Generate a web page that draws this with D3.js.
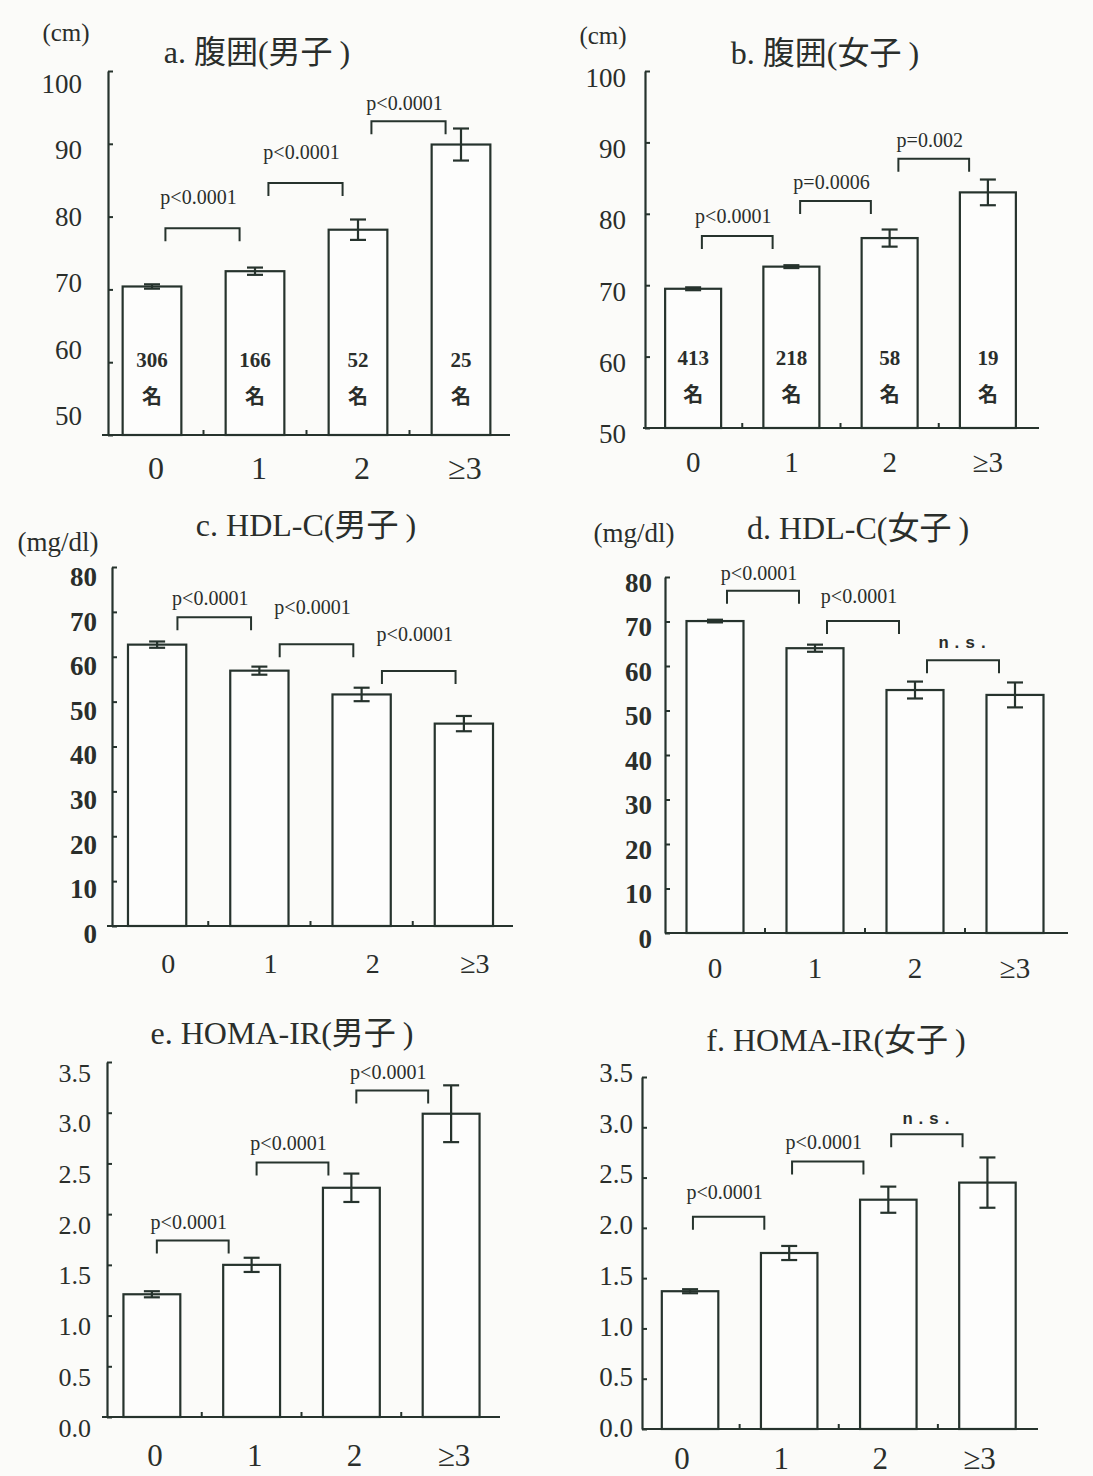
<!DOCTYPE html>
<html>
<head>
<meta charset="utf-8">
<script src="https://cdn.jsdelivr.net/npm/d3@7"></script>
<style>
  html, body { margin: 0; padding: 0; background: #fbfbf9; }
  svg { display: block; }
</style>
</head>
<body>
<svg id="chart" width="1093" height="1476"></svg>
<script>
// ---------------- DATA ----------------
const categories = ["0", "1", "2", "≥3"];

// a. waist circumference, boys (cm)
const waistMaleMean = [70.4, 72.5, 78.2, 89.9];
const waistMaleErr  = [0.3, 0.5, 1.4, 2.2];
const waistMaleN    = [306, 166, 52, 25];
// b. waist circumference, girls (cm)
const waistFemaleMean = [69.5, 72.6, 76.6, 83.0];
const waistFemaleErr  = [0.2, 0.2, 1.2, 1.8];
const waistFemaleN    = [413, 218, 58, 19];
// c. HDL-C boys (mg/dl)
const hdlMaleMean = [62.7, 56.9, 51.6, 45.1];
const hdlMaleErr  = [0.7, 0.9, 1.5, 1.7];
// d. HDL-C girls (mg/dl)
const hdlFemaleMean = [70.1, 64.0, 54.6, 53.5];
const hdlFemaleErr  = [0.3, 0.8, 1.9, 2.8];
// e. HOMA-IR boys
const homaMaleMean = [1.21, 1.50, 2.26, 2.99];
const homaMaleErr  = [0.03, 0.07, 0.14, 0.28];
// f. HOMA-IR girls
const homaFemaleMean = [1.37, 1.75, 2.28, 2.45];
const homaFemaleErr  = [0.02, 0.07, 0.13, 0.25];

// tick labels
const waistTicks = [50, 60, 70, 80, 90, 100];
const hdlTicks   = [0, 10, 20, 30, 40, 50, 60, 70, 80];
const homaTicks  = [0, 0.5, 1.0, 1.5, 2.0, 2.5, 3.0, 3.5];

// significance labels between neighbouring groups
const pWaistMale   = ["p<0.0001", "p<0.0001", "p<0.0001"];
const pWaistFemale = ["p<0.0001", "p=0.0006", "p=0.002"];
const pHdlMale     = ["p<0.0001", "p<0.0001", "p<0.0001"];
const pHdlFemale   = ["p<0.0001", "p<0.0001", "n.s."];
const pHomaMale    = ["p<0.0001", "p<0.0001", "p<0.0001"];
const pHomaFemale  = ["p<0.0001", "p<0.0001", "n.s."];

// ---------------- LAYOUT (annotation levels in data units) ----------------
const panels = [
  { title: "a. 腹囲(男子)", unit: "(cm)", mean: waistMaleMean, err: waistMaleErr, n: waistMaleN,
    domain: [50, 100], ticks: waistTicks, fmt: d3.format("d"), p: pWaistMale,
    brLevel: [78.4, 84.6, 93.1], lbLevel: [82.7, 88.9, 95.6],
    L: { axisX: 108, band: [100.5, 512.5], xStart: 102, xEnd: 510, yTop: 71, yBot: 435,
         lab: [83, 415], labRight: 82, labSize: 27, labBold: false,
         xLabDx: 4, xLabY: 468, xLabSize: 32, brDx: -1,
         titleX: 257, titleY: 52, unitX: 66, unitY: 32, unitSize: 25, countDy: [-75, -38], pBold: false } },
  { title: "b. 腹囲(女子)", unit: "(cm)", mean: waistFemaleMean, err: waistFemaleErr, n: waistFemaleN,
    domain: [50, 100], ticks: waistTicks, fmt: d3.format("d"), p: pWaistFemale,
    brLevel: [76.9, 81.8, 87.7], lbLevel: [79.7, 84.5, 90.3],
    L: { axisX: 645, band: [644, 1037], xStart: 643, xEnd: 1039, yTop: 71, yBot: 428,
         lab: [77, 433], labRight: 626, labSize: 27, labBold: false,
         xLabDx: 0, xLabY: 462, xLabSize: 29, brDx: -5,
         titleX: 825, titleY: 53, unitX: 603, unitY: 35, unitSize: 25, countDy: [-70, -33], pBold: false } },
  { title: "c. HDL-C(男子)", unit: "(mg/dl)", mean: hdlMaleMean, err: hdlMaleErr, n: null,
    domain: [0, 80], ticks: hdlTicks, fmt: d3.format("d"), p: pHdlMale,
    brLevel: [68.8, 62.8, 56.8], lbLevel: [73.1, 71.0, 65.0],
    L: { axisX: 112, band: [106, 515], xStart: 107, xEnd: 513, yTop: 567, yBot: 926,
         lab: [576, 933], labRight: 97, labSize: 27, labBold: true,
         xLabDx: 11, xLabY: 963, xLabSize: 28, brDx: 6,
         titleX: 306, titleY: 525, unitX: 58, unitY: 542, unitSize: 27, countDy: null, pBold: true } },
  { title: "d. HDL-C(女子)", unit: "(mg/dl)", mean: hdlFemaleMean, err: hdlFemaleErr, n: null,
    domain: [0, 80], ticks: hdlTicks, fmt: d3.format("d"), p: pHdlFemale,
    brLevel: [76.9, 70.1, 61.3], lbLevel: [80.9, 75.7, 65.4],
    L: { axisX: 665, band: [665, 1065], xStart: 665, xEnd: 1068, yTop: 577, yBot: 933,
         lab: [582, 938], labRight: 652, labSize: 27, labBold: true,
         xLabDx: 0, xLabY: 968, xLabSize: 29, brDx: -2,
         titleX: 858, titleY: 528, unitX: 634, unitY: 533, unitSize: 27, countDy: null, pBold: true } },
  { title: "e. HOMA-IR(男子)", unit: null, mean: homaMaleMean, err: homaMaleErr, n: null,
    domain: [0, 3.5], ticks: homaTicks, fmt: d3.format(".1f"), p: pHomaMale,
    brLevel: [1.74, 2.51, 3.22], lbLevel: [1.92, 2.70, 3.40],
    L: { axisX: 107, band: [102, 501], xStart: 102, xEnd: 500, yTop: 1062, yBot: 1417,
         lab: [1072, 1427], labRight: 91, labSize: 26, labBold: false,
         xLabDx: 3, xLabY: 1455, xLabSize: 31, brDx: -9,
         titleX: 282, titleY: 1033, countDy: null, pBold: false } },
  { title: "f. HOMA-IR(女子)", unit: null, mean: homaFemaleMean, err: homaFemaleErr, n: null,
    domain: [0, 3.5], ticks: homaTicks, fmt: d3.format(".1f"), p: pHomaFemale,
    brLevel: [2.11, 2.66, 2.93], lbLevel: [2.36, 2.85, 3.09],
    L: { axisX: 642, band: [640.5, 1037], xStart: 642, xEnd: 1038, yTop: 1077, yBot: 1429,
         lab: [1072, 1427], labRight: 633, labSize: 27, labBold: false,
         xLabDx: -8, xLabY: 1458, xLabSize: 31, brDx: -11,
         titleX: 836, titleY: 1040, countDy: null, pBold: false } }
];

const INK = "#26332d";
const TEXT = "#2a2e2b";
const SERIF = "'Liberation Serif', 'Times New Roman', 'Noto Sans CJK JP', serif";

const svg = d3.select("#chart");
svg.append("rect").attr("width", 1093).attr("height", 1476).attr("fill", "#fbfbf9");

panels.forEach(P => {
  const L = P.L;
  const g = svg.append("g");

  const x = d3.scaleBand().domain(categories).range(L.band).paddingInner(0.43).paddingOuter(0.215);
  const y = d3.scaleLinear().domain(P.domain).range([L.yBot, L.yTop]);
  const yLab = d3.scaleLinear().domain(P.domain).range([L.lab[1], L.lab[0]]);

  // bars
  g.selectAll("rect.bar").data(P.mean).join("rect")
    .attr("class", "bar")
    .attr("x", (d, i) => x(categories[i]))
    .attr("y", d => y(d))
    .attr("width", x.bandwidth())
    .attr("height", d => L.yBot - y(d))
    .attr("fill", "#fdfdfc")
    .attr("stroke", INK).attr("stroke-width", 2.2);

  // error bars
  const cap = 8;
  P.mean.forEach((m, i) => {
    const cx = x(categories[i]) + x.bandwidth() / 2;
    const e = P.err[i];
    const eg = g.append("g").attr("stroke", INK).attr("stroke-width", 2.2);
    eg.append("line").attr("x1", cx).attr("x2", cx).attr("y1", y(m - e)).attr("y2", y(m + e));
    eg.append("line").attr("x1", cx - cap).attr("x2", cx + cap).attr("y1", y(m + e)).attr("y2", y(m + e));
    eg.append("line").attr("x1", cx - cap).attr("x2", cx + cap).attr("y1", y(m - e)).attr("y2", y(m - e));
  });

  // y axis (line + inward ticks)
  const yAxisG = g.append("g").attr("transform", `translate(${L.axisX},0)`)
    .call(d3.axisLeft(y).tickValues(P.ticks).tickSize(-5).tickSizeOuter(0).tickFormat(""));
  yAxisG.select(".domain").attr("stroke", INK).attr("stroke-width", 2.2);
  yAxisG.selectAll(".tick line").attr("stroke", INK).attr("stroke-width", 2);

  // y tick labels
  const yLabG = g.append("g").attr("transform", `translate(${L.labRight},0)`)
    .call(d3.axisLeft(yLab).tickValues(P.ticks).tickSize(0).tickPadding(0).tickFormat(P.fmt));
  yLabG.select(".domain").remove();
  yLabG.selectAll("text")
    .attr("font-family", SERIF).attr("font-size", L.labSize)
    .attr("font-weight", L.labBold ? "bold" : "normal")
    .attr("fill", TEXT).attr("dy", "0.35em");

  // x axis line
  g.append("line").attr("x1", L.xStart).attr("x2", L.xEnd).attr("y1", L.yBot).attr("y2", L.yBot)
    .attr("stroke", INK).attr("stroke-width", 2.2);
  // separator ticks between groups
  categories.slice(0, -1).forEach(c => {
    const sx = x(c) + x.bandwidth() / 2 + x.step() / 2;
    g.append("line").attr("x1", sx).attr("x2", sx).attr("y1", L.yBot).attr("y2", L.yBot - 5)
      .attr("stroke", INK).attr("stroke-width", 2);
  });
  // x labels
  g.selectAll("text.xl").data(categories).join("text")
    .attr("class", "xl")
    .attr("x", d => x(d) + x.bandwidth() / 2 + L.xLabDx)
    .attr("y", L.xLabY).attr("dy", "0.35em")
    .attr("text-anchor", "middle")
    .attr("font-family", SERIF).attr("font-size", L.xLabSize).attr("fill", TEXT)
    .text(d => d);

  // significance brackets
  const half = x.step() * 0.36;
  const leg = 13;
  P.p.forEach((lab, i) => {
    const sx = x(categories[i]) + x.bandwidth() / 2 + x.step() / 2 + L.brDx;
    const by = y(P.brLevel[i]);
    g.append("path")
      .attr("d", `M${sx - half},${by + leg}V${by}H${sx + half}V${by + leg}`)
      .attr("fill", "none").attr("stroke", INK).attr("stroke-width", 2);
    const isNS = lab === "n.s.";
    g.append("text")
      .attr("x", sx + (isNS ? 2 : -4)).attr("y", y(P.lbLevel[i])).attr("dy", "0.35em")
      .attr("text-anchor", "middle")
      .attr("font-family", isNS ? "'Liberation Mono', 'DejaVu Sans Mono', monospace" : SERIF)
      .attr("font-size", isNS ? 17 : 20)
      .attr("letter-spacing", isNS ? 3 : 0)
      .attr("font-weight", P.pBold || isNS ? "bold" : "normal")
      .attr("fill", TEXT)
      .text(lab);
  });

  // group counts inside bars
  if (P.n) {
    P.n.forEach((v, i) => {
      const cx = x(categories[i]) + x.bandwidth() / 2;
      g.append("text").attr("x", cx).attr("y", L.yBot + L.countDy[0]).attr("dy", "0.35em")
        .attr("text-anchor", "middle").attr("font-family", SERIF).attr("font-weight", "bold")
        .attr("font-size", 21).attr("fill", TEXT).text(v);
      g.append("text").attr("x", cx).attr("y", L.yBot + L.countDy[1]).attr("dy", "0.35em")
        .attr("text-anchor", "middle").attr("font-family", "'Noto Sans CJK JP', sans-serif")
        .attr("font-weight", "bold").attr("font-size", 20).attr("fill", TEXT).text("名");
    });
  }

  // title: half-width parentheses, small gap before the closing one
  const t = g.append("text").attr("x", L.titleX).attr("y", L.titleY).attr("dy", "0.35em")
    .attr("text-anchor", "middle").attr("font-family", SERIF).attr("font-size", 32)
    .attr("fill", TEXT);
  t.append("tspan").text(P.title.slice(0, -1));
  t.append("tspan").attr("dx", 7).text(P.title.slice(-1));

  // unit
  if (P.unit) {
    g.append("text").attr("x", L.unitX).attr("y", L.unitY).attr("dy", "0.35em")
      .attr("text-anchor", "middle").attr("font-family", SERIF).attr("font-size", L.unitSize)
      .attr("fill", TEXT).text(P.unit);
  }
});
</script>
</body>
</html>
